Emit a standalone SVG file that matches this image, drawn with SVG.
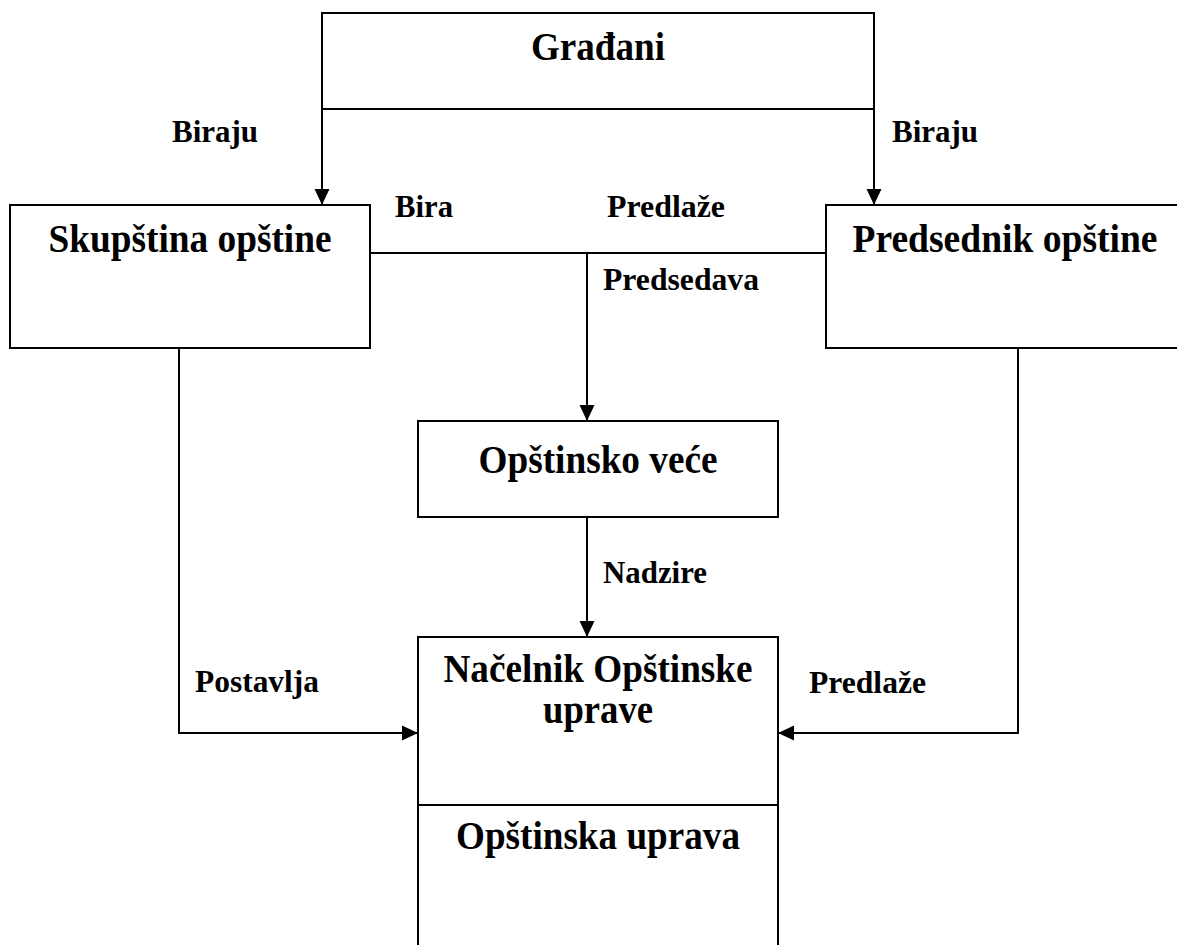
<svg xmlns="http://www.w3.org/2000/svg" width="1177" height="945" viewBox="0 0 1177 945">
<style>
.box{fill:#fff;stroke:#000;stroke-width:2}
.ln{fill:none;stroke:#000;stroke-width:2}
.t{font-family:"Liberation Serif","Times New Roman",serif;font-weight:bold;font-size:40px;fill:#000;text-anchor:middle}
.l{font-family:"Liberation Serif","Times New Roman",serif;font-weight:bold;font-size:32px;fill:#000}
</style>
<defs>
<marker id="ah" markerUnits="userSpaceOnUse" markerWidth="16" markerHeight="16" viewBox="0 0 15 14" refX="15" refY="7" orient="auto">
<path d="M0,0 L15,7 L0,14 Z" fill="#000"/>
</marker>
</defs>
<rect width="1177" height="945" fill="#fff"/>
<g id="connectors">
<line class="ln" x1="322" y1="109" x2="322" y2="205" marker-end="url(#ah)"/>
<line class="ln" x1="874" y1="109" x2="874" y2="205" marker-end="url(#ah)"/>
<line class="ln" x1="370" y1="253" x2="826" y2="253"/>
<line class="ln" x1="587" y1="253" x2="587" y2="421" marker-end="url(#ah)"/>
<line class="ln" x1="587" y1="517" x2="587" y2="637" marker-end="url(#ah)"/>
<polyline class="ln" points="179,348 179,733 418,733" marker-end="url(#ah)"/>
<polyline class="ln" points="1018,348 1018,733 778,733" marker-end="url(#ah)"/>
<text class="l" x="172" y="142" textLength="86" lengthAdjust="spacingAndGlyphs">Biraju</text>
<text class="l" x="892" y="142" textLength="86" lengthAdjust="spacingAndGlyphs">Biraju</text>
<text class="l" x="395" y="217" textLength="58" lengthAdjust="spacingAndGlyphs">Bira</text>
<text class="l" x="607" y="217" textLength="118" lengthAdjust="spacingAndGlyphs">Predlaže</text>
<text class="l" x="603" y="290" textLength="156" lengthAdjust="spacingAndGlyphs">Predsedava</text>
<text class="l" x="603" y="583" textLength="104" lengthAdjust="spacingAndGlyphs">Nadzire</text>
<text class="l" x="195" y="692" textLength="124" lengthAdjust="spacingAndGlyphs">Postavlja</text>
<text class="l" x="809" y="693" textLength="117" lengthAdjust="spacingAndGlyphs">Predlaže</text>
</g>
<g id="gradjani">
<rect class="box" x="322" y="13" width="552" height="96"/>
<text class="t" x="598" y="60" textLength="134" lengthAdjust="spacingAndGlyphs">Građani</text>
</g>
<g id="skupstina">
<rect class="box" x="10" y="205" width="360" height="143"/>
<text class="t" x="190" y="252" textLength="283" lengthAdjust="spacingAndGlyphs">Skupština opštine</text>
</g>
<g id="predsednik">
<rect class="box" x="826" y="205" width="360" height="143"/>
<text class="t" x="1005" y="252" textLength="305" lengthAdjust="spacingAndGlyphs">Predsednik opštine</text>
</g>
<g id="opstinsko-vece">
<rect class="box" x="418" y="421" width="360" height="96"/>
<text class="t" x="598" y="473" textLength="239" lengthAdjust="spacingAndGlyphs">Opštinsko veće</text>
</g>
<g id="nacelnik">
<rect class="box" x="418" y="637" width="360" height="168"/>
<text class="t" x="598" y="682" textLength="309" lengthAdjust="spacingAndGlyphs">Načelnik Opštinske</text>
<text class="t" x="598" y="723" textLength="110" lengthAdjust="spacingAndGlyphs">uprave</text>
</g>
<g id="opstinska-uprava">
<rect class="box" x="418" y="805" width="360" height="160"/>
<text class="t" x="598" y="849" textLength="284" lengthAdjust="spacingAndGlyphs">Opštinska uprava</text>
</g>
</svg>
